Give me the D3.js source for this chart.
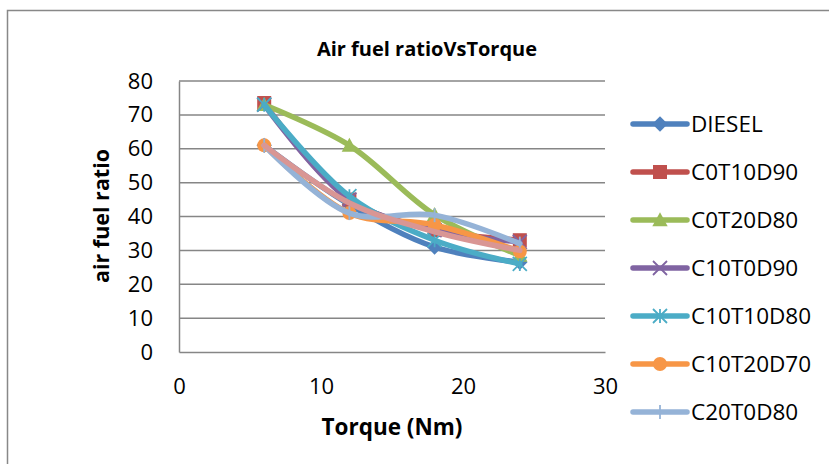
<!DOCTYPE html>
<html><head><meta charset="utf-8">
<script src="https://cdn.jsdelivr.net/npm/d3@7"></script>
<style>body{margin:0;background:#fff}svg{display:block}text{font-family:"Open Sans",sans-serif}</style>
</head><body><svg id="c" width="829" height="464"></svg>
<script>
const torque = [6, 12, 18, 24];
const seriesNames = ["DIESEL","C0T10D90","C0T20D80","C10T0D90","C10T10D80","C10T20D70","C20T0D80","C20T10D70"];
const diesel    = [61, 43.5, 31, 26.5];
const c0t10d90  = [73.5, 45, 36, 33];
const c0t20d80  = [73, 61, 40.5, 28.5];
const c10t0d90  = [73, 45, 36, 32.5];
const c10t10d80 = [73, 46, 33, 26];
const c10t20d70 = [61, 41, 37.5, 29.7];
const c20t0d80  = [61, 41, 40.4, 32];
const c20t10d70 = [61, 44, 35.5, 30];
const seriesValues = [diesel,c0t10d90,c0t20d80,c10t0d90,c10t10d80,c10t20d70,c20t0d80,c20t10d70];
const colors = ["#4F81BD","#C0504D","#9BBB59","#8064A2","#4BACC6","#F79646","#95B3D7","#D99694"];
const markers = ["diamond","square","triangle","x","star","circle","plus","none"];
const yTicks = [0,10,20,30,40,50,60,70,80];
const xTicks = [0,10,20,30];
const legendCount = 7;

const svg = d3.select("#c");
svg.append("rect").attr("x",7.5).attr("y",10.5).attr("width",840).attr("height",480)
  .attr("fill","none").attr("stroke","#888").attr("stroke-width",1.5);

const L=179,R=605,T=81,B=352;
const x = d3.scaleLinear().domain([0,30]).range([L,R]);
const y = d3.scaleLinear().domain([0,80]).range([B,T]);

svg.append("g").selectAll("line").data(yTicks.filter(d=>d>0)).join("line")
  .attr("x1",L).attr("x2",R).attr("y1",d=>y(d)).attr("y2",d=>y(d))
  .attr("stroke","#868686").attr("stroke-width",1.5);
const yAxis = svg.append("g").attr("transform",`translate(${L},0)`)
  .call(d3.axisLeft(y).tickValues(yTicks).tickSize(0).tickPadding(26));
const xAxis = svg.append("g").attr("transform",`translate(0,${B})`)
  .call(d3.axisBottom(x).tickValues(xTicks).tickSize(0).tickPadding(26));
[yAxis,xAxis].forEach(a=>{
  a.select(".domain").attr("stroke","#868686").attr("stroke-width",1.5);
  a.selectAll("text").attr("font-size",22).attr("fill","#000").attr("font-family","'Open Sans',sans-serif");
});

svg.append("text").attr("x",427).attr("y",56).attr("text-anchor","middle")
  .attr("font-size",20).attr("font-weight","bold").text("Air fuel ratioVsTorque");
svg.append("text").attr("x",392).attr("y",435).attr("text-anchor","middle")
  .attr("font-size",22.5).attr("font-weight","bold").text("Torque (Nm)");
svg.append("text").attr("transform","translate(109,216) rotate(-90)").attr("text-anchor","middle")
  .attr("font-size",21.5).attr("font-weight","bold").text("air fuel ratio");

function drawMarker(g, type, color, cx, cy, s){
  const r=s/2;
  if(type==="diamond") g.append("path").attr("d",`M${cx},${cy-r*1.1}L${cx+r*1.1},${cy}L${cx},${cy+r*1.1}L${cx-r*1.1},${cy}Z`).attr("fill",color);
  else if(type==="square") g.append("rect").attr("x",cx-r).attr("y",cy-r).attr("width",s).attr("height",s).attr("fill",color);
  else if(type==="triangle") g.append("path").attr("d",`M${cx},${cy-r*1.1}L${cx+r*1.1},${cy+r*0.9}L${cx-r*1.1},${cy+r*0.9}Z`).attr("fill",color);
  else if(type==="circle") g.append("circle").attr("cx",cx).attr("cy",cy).attr("r",r).attr("fill",color);
  else if(type==="x") g.append("path").attr("d",`M${cx-r},${cy-r}L${cx+r},${cy+r}M${cx-r},${cy+r}L${cx+r},${cy-r}`).attr("stroke",color).attr("stroke-width",1.8);
  else if(type==="star") g.append("path").attr("d",`M${cx-r},${cy-r}L${cx+r},${cy+r}M${cx-r},${cy+r}L${cx+r},${cy-r}M${cx},${cy-r}L${cx},${cy+r}`).attr("stroke",color).attr("stroke-width",1.8);
  else if(type==="plus") g.append("path").attr("d",`M${cx},${cy-r}L${cx},${cy+r}`).attr("stroke",color).attr("stroke-width",1.8);
}

const line = d3.line().x(d=>x(d[0])).y(d=>y(d[1])).curve(d3.curveCatmullRom.alpha(0.5));
const plot = svg.append("g");
seriesValues.forEach((vals,i)=>{
  const g = plot.append("g");
  const pts = torque.map((t,j)=>[t,vals[j]]);
  g.append("path").attr("d",line(pts)).attr("fill","none").attr("stroke",colors[i])
    .attr("stroke-width",5.5).attr("stroke-linecap","round").attr("stroke-linejoin","round");
  pts.forEach(p=>drawMarker(g,markers[i],colors[i],x(p[0]),y(p[1]),14));
});

const lg = svg.append("g");
for(let i=0;i<legendCount;i++){
  const ly = 124 + i*48;
  lg.append("line").attr("x1",633).attr("x2",687).attr("y1",ly).attr("y2",ly)
    .attr("stroke",colors[i]).attr("stroke-width",5.5).attr("stroke-linecap","round");
  drawMarker(lg,markers[i],colors[i],660,ly,14);
  lg.append("text").attr("x",691).attr("y",ly+8).attr("font-size",22.5).text(seriesNames[i]);
}
</script></body></html>
